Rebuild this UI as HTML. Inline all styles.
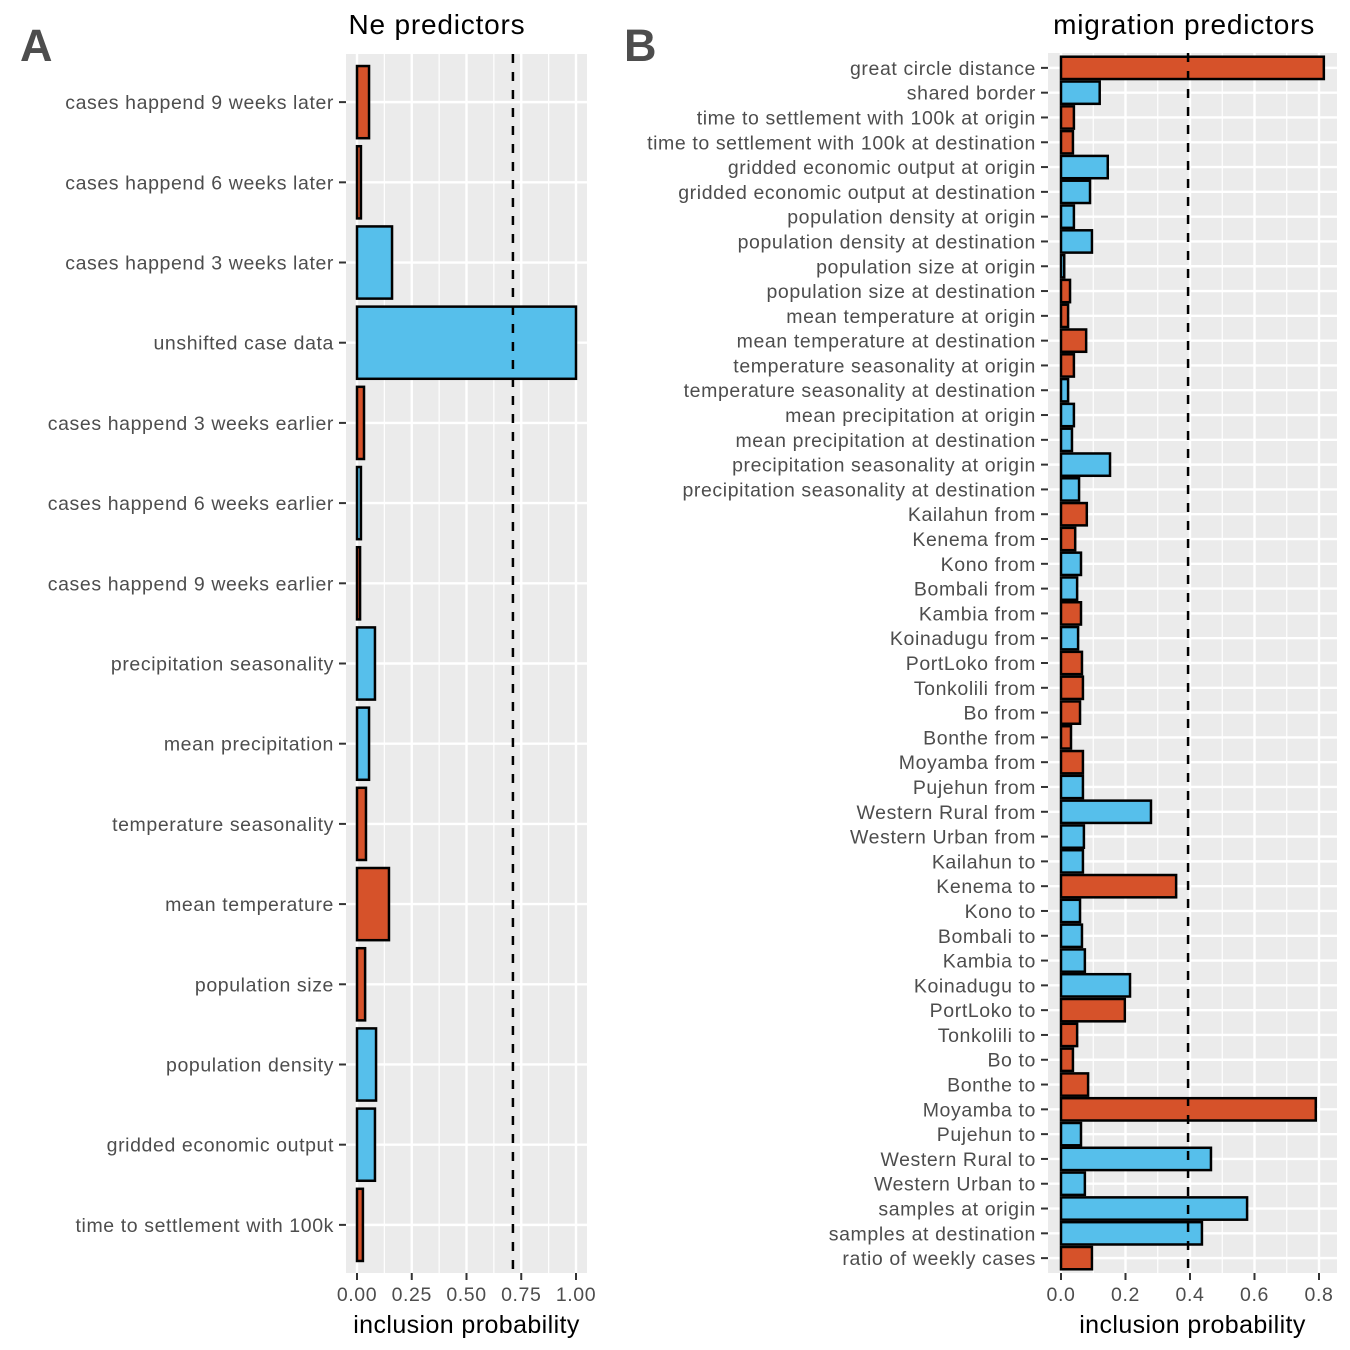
<!DOCTYPE html>
<html><head><meta charset="utf-8"><style>
body{margin:0;background:#fff}
svg{display:block;font-family:"Liberation Sans",sans-serif}
</style></head><body>
<svg id="chart" width="1350" height="1350"></svg>
<script>
const RED="#d6522a", BLUE="#56bfeb";
// Panel A data
const neCategories=["cases happend 9 weeks later","cases happend 6 weeks later","cases happend 3 weeks later","unshifted case data","cases happend 3 weeks earlier","cases happend 6 weeks earlier","cases happend 9 weeks earlier","precipitation seasonality","mean precipitation","temperature seasonality","mean temperature","population size","population density","gridded economic output","time to settlement with 100k"];
const neValues=[0.055,0.018,0.16,1.0,0.032,0.018,0.014,0.082,0.055,0.041,0.146,0.037,0.087,0.082,0.027];
const neSign=["r","r","b","b","r","b","r","b","b","r","r","r","b","b","r"];
const neTicks=[0,0.25,0.5,0.75,1.0];
const neTickLabels=["0.00","0.25","0.50","0.75","1.00"];
const neThreshold=0.712;
// Panel B data
const migCategories=["great circle distance","shared border","time to settlement with 100k at origin","time to settlement with 100k at destination","gridded economic output at origin","gridded economic output at destination","population density at origin","population density at destination","population size at origin","population size at destination","mean temperature at origin","mean temperature at destination","temperature seasonality at origin","temperature seasonality at destination","mean precipitation at origin","mean precipitation at destination","precipitation seasonality at origin","precipitation seasonality at destination","Kailahun from","Kenema from","Kono from","Bombali from","Kambia from","Koinadugu from","PortLoko from","Tonkolili from","Bo from","Bonthe from","Moyamba from","Pujehun from","Western Rural from","Western Urban from","Kailahun to","Kenema to","Kono to","Bombali to","Kambia to","Koinadugu to","PortLoko to","Tonkolili to","Bo to","Bonthe to","Moyamba to","Pujehun to","Western Rural to","Western Urban to","samples at origin","samples at destination","ratio of weekly cases"];
const migValues=[0.815,0.12,0.04,0.037,0.145,0.09,0.04,0.096,0.01,0.028,0.022,0.078,0.04,0.022,0.04,0.034,0.152,0.056,0.08,0.044,0.062,0.05,0.062,0.053,0.065,0.068,0.059,0.031,0.068,0.068,0.279,0.071,0.068,0.357,0.059,0.065,0.074,0.214,0.198,0.05,0.037,0.084,0.79,0.062,0.465,0.074,0.577,0.437,0.096];
const migSign=["r","b","r","r","b","b","b","b","b","r","r","r","r","b","b","b","b","b","r","r","b","b","r","b","r","r","r","r","r","b","b","b","b","r","b","b","b","b","r","r","r","r","r","b","b","b","b","b","r"];
const migTicks=[0,0.2,0.4,0.6,0.8];
const migTickLabels=["0.0","0.2","0.4","0.6","0.8"];
const migThreshold=0.394;

const svg=document.getElementById("chart");
const NS="http://www.w3.org/2000/svg";
function mk(tag,attrs,parent){const e=document.createElementNS(NS,tag);for(const k in attrs)e.setAttribute(k,attrs[k]);(parent||svg).appendChild(e);return e;}

function panel(o){
  const g=mk("g",{});
  
  
  const x=v=>o.x0+(v-0)*o.ppu;
  const n=o.cats.length;
  const step=(o.bottom-o.top)/(n-1+1.2);
  const y=i=>o.top+step*(0.6+i);
  const bg=mk("rect",{x:o.left,y:o.top,width:o.right-o.left,height:o.bottom-o.top,fill:"#ebebeb"},g);
  
  
  for(let i=0;i<o.ticks.length;i++){const v=o.ticks[i]+(o.ticks[1]-o.ticks[0])/2;const px=x(v);if(px<o.right)mk("line",{x1:px,x2:px,y1:o.top,y2:o.bottom,stroke:"#fff","stroke-width":1.2},g);}
  o.ticks.forEach(t=>mk("line",{x1:x(t),x2:x(t),y1:o.top,y2:o.bottom,stroke:"#fff","stroke-width":2.4},g));
  o.cats.forEach((c,i)=>mk("line",{x1:o.left,x2:o.right,y1:y(i),y2:y(i),stroke:"#fff","stroke-width":2.4},g));
  const bh=step*0.9;
  o.vals.forEach((v,i)=>{
    const r=mk("rect",{x:x(0),y:y(i)-bh/2,width:Math.max(x(v)-x(0),0.5),height:bh,fill:o.sign[i]=="r"?RED:BLUE,stroke:"#000","stroke-width":2.5},g);
    
    
  });
  const dl=mk("line",{x1:x(o.thr),x2:x(o.thr),y1:o.top,y2:o.bottom,stroke:"#000","stroke-width":2.5,"stroke-dasharray":"9,9"},g);
  
  
  o.cats.forEach((c,i)=>{
    mk("line",{x1:o.left-7,x2:o.left,y1:y(i),y2:y(i),stroke:"#333","stroke-width":2},g);
    const t=mk("text",{x:o.left-12,y:y(i)+7,"text-anchor":"end","font-size":19.5,"letter-spacing":0.6,fill:"#4d4d4d"},g);
    t.textContent=c;
    
    
  });
  o.ticks.forEach((tv,i)=>{
    mk("line",{x1:x(tv),x2:x(tv),y1:o.bottom,y2:o.bottom+7,stroke:"#333","stroke-width":2},g);
    const t=mk("text",{x:x(tv),y:o.bottom+28,"text-anchor":"middle","font-size":19.5,"letter-spacing":0.6,fill:"#4d4d4d"},g);
    t.textContent=o.tickLabels[i];
    
    
  });
  const xt=mk("text",{x:(o.left+o.right)/2,y:o.bottom+60,"text-anchor":"middle","font-size":25,"letter-spacing":0.4,fill:"#000"},g);
  xt.textContent="inclusion probability";
  
  
  const ti=mk("text",{x:o.titleX,y:34,"text-anchor":o.titleAnchor,"font-size":28,"letter-spacing":0.8,fill:"#000"},g);
  ti.textContent=o.title;
  
  
  const lb=mk("text",{x:o.labelX,y:61,"font-size":45,"font-weight":"bold",fill:"#4d4d4d"},g);
  lb.textContent=o.label;
  
  
}
panel({name:"panel-a",cats:neCategories,vals:neValues,sign:neSign,ticks:neTicks,tickLabels:neTickLabels,thr:neThreshold,
  left:346,right:587,top:54,bottom:1273,x0:357,ppu:219,title:"Ne predictors",titleX:437,titleAnchor:"middle",label:"A",labelX:20});
panel({name:"panel-b",cats:migCategories,vals:migValues,sign:migSign,ticks:migTicks,tickLabels:migTickLabels,thr:migThreshold,
  left:1048,right:1337,top:53,bottom:1273,x0:1061,ppu:322.5,title:"migration predictors",titleX:1315,titleAnchor:"end",label:"B",labelX:624});
</script>
</body></html>
